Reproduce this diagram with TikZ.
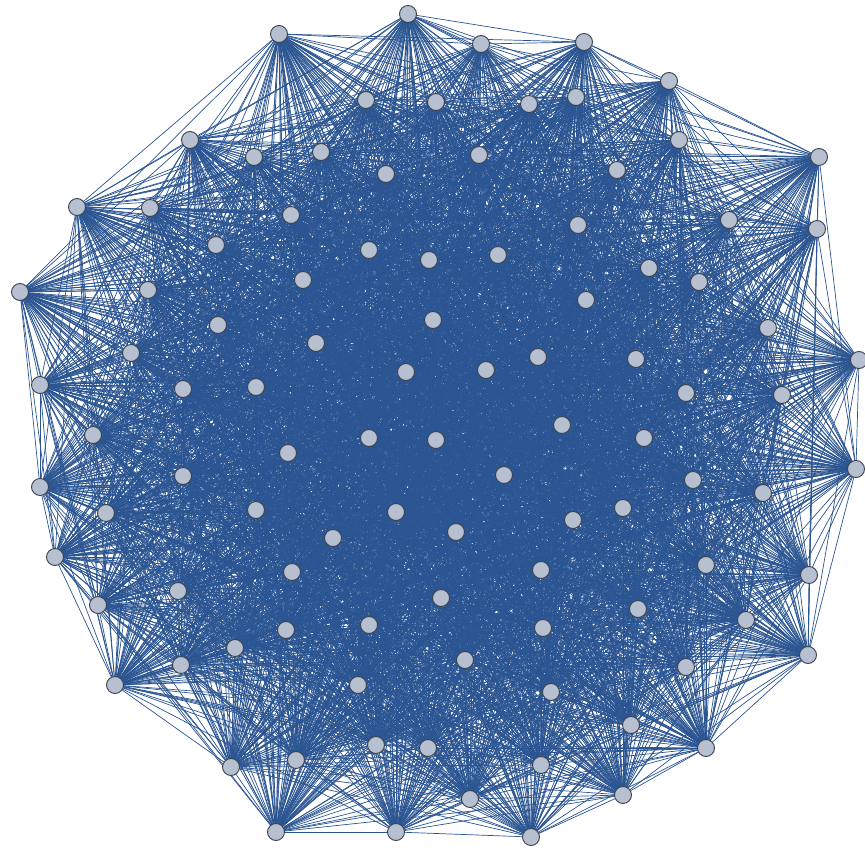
\documentclass[tikz,border=0pt]{standalone}
\usepackage{xcolor}
\usepackage{tikz}
\usetikzlibrary{backgrounds}
\definecolor{edgeblue}{HTML}{2B5592}
\definecolor{vtxfill}{HTML}{B6C0D0}
\definecolor{vtxline}{HTML}{3C414C}

\begin{document}
\begin{tikzpicture}[
      x=1pt, y=-1pt,
      vtx/.style={circle, draw=vtxline, fill=vtxfill, line width=0.9pt,
                  minimum size=17pt, inner sep=0pt},
      link/.style={edgeblue, line width=0.7pt}]
    \useasboundingbox (0,0) rectangle (865,850);
    % vertices, pixel positions of the original layout
    \foreach \x/\y [count=\i] in {
        408/14, 279/34, 481/44, 584/42, 669/81, 366/100, 436/102, 529/104, 576/97, 190/140,
        254/157, 321/152, 679/140, 479/155, 819/157, 386/174, 617/170, 77/207, 150/208, 291/215,
        729/220, 578/225, 817/229, 216/245, 369/250, 429/260, 498/255, 649/268, 20/292, 148/290,
        303/280, 699/282, 586/300, 218/325, 433/320, 768/328, 316/343, 131/353, 538/357, 636/359,
        859/360, 40/385, 183/389, 256/387, 406/372, 486/370, 686/393, 782/395, 93/435, 369/438,
        436/440, 562/425, 644/438, 288/453, 856/469, 183/476, 504/475, 693/480, 40/487, 763/493,
        256/510, 396/512, 623/508, 106/513, 456/532, 573/520, 333/538, 55/557, 706/565, 292/572,
        541/570, 809/575, 178/591, 98/605, 441/598, 638/609, 746/620, 369/625, 543/628, 286/630,
        235/648, 808/655, 181/665, 465/660, 686/667, 115/685, 358/685, 551/692, 631/725, 376/745,
        428/748, 706/748, 296/760, 541/765, 231/767, 470/799, 623/795, 276/832, 396/832, 531/837}
      \node[vtx] (v\i) at (\x,\y) {};
    % edges: dense random graph, fixed seed
    \begin{scope}[on background layer]
      \pgfmathsetseed{4242}
      \foreach \i in {1,...,99}{
        \pgfmathtruncatemacro{\jfirst}{\i+1}
        \foreach \j in {\jfirst,...,100}{
          \pgfmathrandominteger{\rnd}{1}{100}
          \ifnum\rnd<80 \draw[link] (v\i.center) -- (v\j.center);\fi
        }
      }
    \end{scope}
  \end{tikzpicture}
\end{document}
